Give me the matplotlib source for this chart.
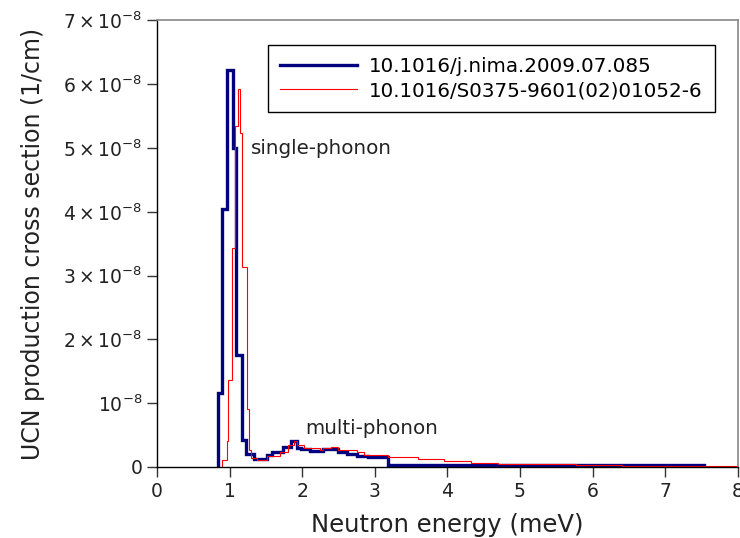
import matplotlib
matplotlib.use("Agg")
import matplotlib.pyplot as plt
from matplotlib.ticker import FixedLocator, FuncFormatter
import numpy as np

# Data (energies in meV, cross sections in units of 1e-8 1/cm)
blue_edges = [0.843, 0.898, 0.965, 1.05, 1.094, 1.17, 1.225, 1.33, 1.52, 1.59,
              1.73, 1.84, 1.93, 1.98, 2.11, 2.29, 2.49, 2.62, 2.76, 2.90, 3.18, 7.54]
blue_vals = [1.16, 4.05, 6.23, 5.0, 1.75, 0.42, 0.2, 0.12, 0.19, 0.23,
             0.31, 0.40, 0.30, 0.28, 0.25, 0.28, 0.23, 0.20, 0.17, 0.15, 0.025]

red_edges = [0.891, 0.961, 0.983, 1.03, 1.077, 1.115, 1.146, 1.174, 1.239, 1.27,
             1.30, 1.38, 1.52, 1.70, 1.81, 1.88, 1.93, 2.02, 2.25, 2.29, 2.39,
             2.49, 2.76, 2.85, 3.18, 3.36, 3.59, 3.95, 4.32, 4.70, 5.77, 6.40,
             7.13, 8.0]
red_vals = [0.11, 0.4, 1.37, 3.43, 5.35, 5.92, 5.24, 3.13, 0.91, 0.27,
            0.14, 0.11, 0.17, 0.23, 0.34, 0.41, 0.34, 0.30, 0.27, 0.30,
            0.32, 0.27, 0.24, 0.19, 0.16, 0.15, 0.12, 0.10, 0.07, 0.04, 0.03,
            0.02, 0.01]

scale = 1e-8
blue_label = "10.1016/j.nima.2009.07.085"
red_label = "10.1016/S0375-9601(02)01052-6"
yticks = [0, 1, 2, 3, 4, 5, 6, 7]
xticks = [0, 1, 2, 3, 4, 5, 6, 7, 8]

fig = plt.figure(figsize=(7.40, 5.38), dpi=100)
ax = fig.add_axes([0.2122, 0.132, 0.997 - 0.2122, 0.962 - 0.132])

ax.stairs(np.array(blue_vals) * scale, blue_edges, color="#000080", linewidth=2.4,
          label=blue_label, baseline=0)
ax.stairs(np.array(red_vals) * scale, red_edges, color="#ff0000", linewidth=0.8,
          label=red_label, baseline=0)

ax.set_xlim(0, 8)
ax.set_ylim(0, 7e-8)

ax.xaxis.set_major_locator(FixedLocator(xticks))
ax.yaxis.set_major_locator(FixedLocator([v * scale for v in yticks]))

def yfmt(v, pos):
    n = int(round(v / scale))
    if n == 0:
        return "0"
    if n == 1:
        return r"$10^{-8}$"
    return r"$%d\times10^{-8}$" % n

ax.yaxis.set_major_formatter(FuncFormatter(yfmt))
ax.tick_params(axis="both", direction="out", length=7, width=1, labelsize=13.5,
               color="#333333", labelcolor="#222222")
ax.tick_params(top=False, right=False)

for s in ["top", "right"]:
    ax.spines[s].set_color("#888888")
    ax.spines[s].set_linewidth(1.2)
for s in ["left", "bottom"]:
    ax.spines[s].set_color("black")
    ax.spines[s].set_linewidth(1.0)

ax.set_xlabel("Neutron energy (meV)", fontsize=17.5, color="#222222", labelpad=9)
ax.set_ylabel("UCN production cross section (1/cm)", fontsize=17, color="#222222",
              labelpad=13)

ax.text(1.3, 5.0e-8, "single-phonon", fontsize=14.3, va="center", ha="left",
        color="#222222")
ax.text(2.04, 0.61e-8, "multi-phonon", fontsize=14.3, va="center", ha="left",
        color="#222222")

leg = ax.legend(loc="upper right", bbox_to_anchor=(0.9604, 0.944), fontsize=14.3,
                fancybox=False, framealpha=1, edgecolor="black",
                handlelength=3.9, borderpad=0.6, labelspacing=0.25,
                handletextpad=0.6, borderaxespad=0)
leg.get_frame().set_linewidth(1.0)
leg._legend_box.align = "left"

fig.savefig("out.png", dpi=100)
